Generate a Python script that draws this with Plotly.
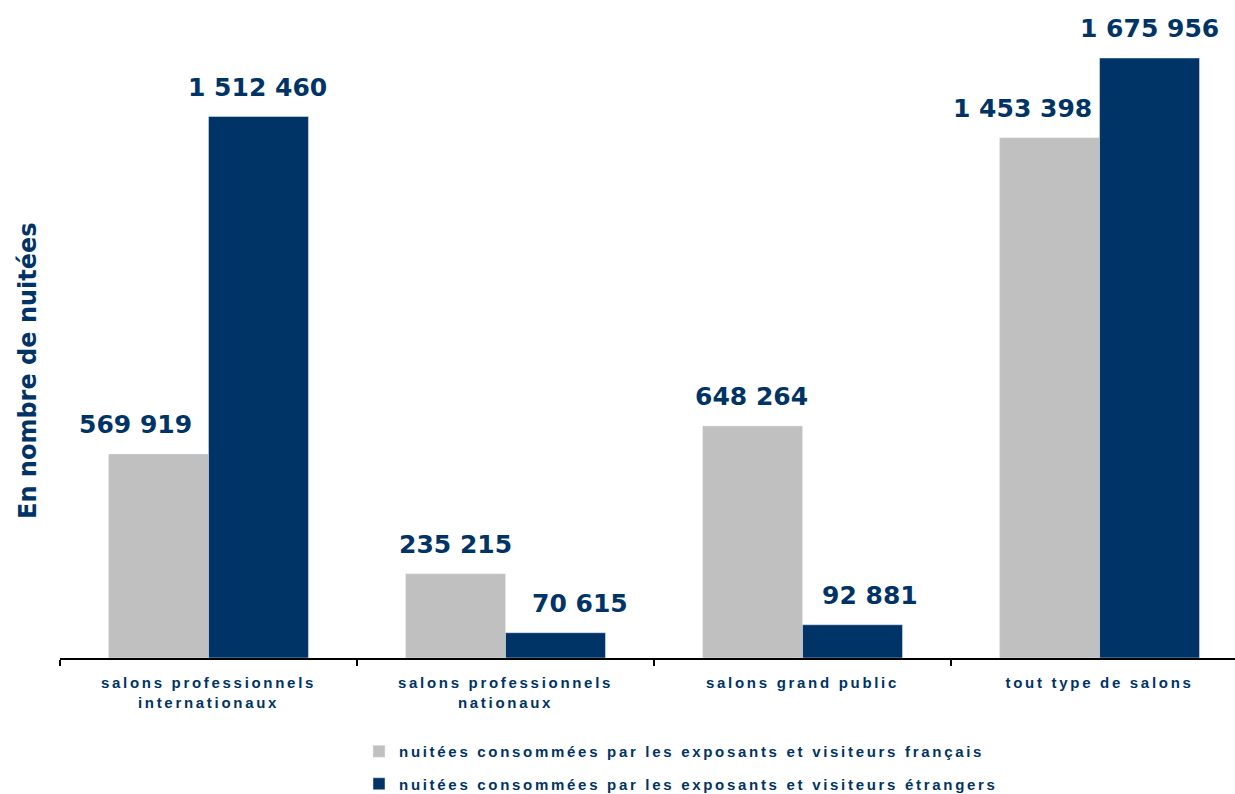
"""Nuitées consommées par type de salon — grouped bar chart."""

import plotly.graph_objects as go

# ---- data -------------------------------------------------------------
categories = [
    "salons professionnels<br>internationaux",
    "salons professionnels<br>nationaux",
    "salons grand public",
    "tout type de salons",
]
nuitees_francais = [569919, 235215, 648264, 1453398]
nuitees_etrangers = [1512460, 70615, 92881, 1675956]
series_names = [
    "nuitées consommées par les exposants et visiteurs français",
    "nuitées consommées par les exposants et visiteurs étrangers",
]
y_title = "En nombre de nuitées"

# ---- style ------------------------------------------------------------
GREY = "#c0c0c0"
NAVY = "#003366"
BAR_HALF_PX = 50                    # half bar width in px, for label placement
NUDGE_FR = [-23, 0, -1, -27]        # extra label shifts so labels don't collide
NUDGE_ET = [-1, 24, 17, 0]


def fmt(v):
    return f"{v:,}".replace(",", " ")


fig = go.Figure()
fig.add_trace(go.Bar(x=categories, y=nuitees_francais, name=series_names[0],
                     marker_color=GREY, legendgroup="fr"))
fig.add_trace(go.Bar(x=categories, y=nuitees_etrangers, name=series_names[1],
                     marker_color=NAVY, legendgroup="et"))

label_font = dict(family="DejaVu Sans", size=25, color=NAVY, weight="bold")
for i, cat in enumerate(categories):
    fig.add_annotation(x=cat, y=nuitees_francais[i], text=fmt(nuitees_francais[i]),
                       showarrow=False, yanchor="bottom", yshift=13,
                       xshift=-BAR_HALF_PX + NUDGE_FR[i], font=label_font)
    fig.add_annotation(x=cat, y=nuitees_etrangers[i], text=fmt(nuitees_etrangers[i]),
                       showarrow=False, yanchor="bottom", yshift=13,
                       xshift=BAR_HALF_PX + NUDGE_ET[i], font=label_font)

fig.add_annotation(text=y_title, textangle=-90, showarrow=False,
                   xref="paper", yref="paper", x=-0.0272, y=0.443,
                   xanchor="center", yanchor="middle",
                   font=dict(family="DejaVu Sans", size=24, color=NAVY, weight="bold"))

fig.update_layout(
    width=1235, height=794,
    margin=dict(l=60, r=0, t=10, b=136, autoexpand=False),
    barmode="group", bargap=0.327, bargroupgap=0,
    plot_bgcolor="white", paper_bgcolor="white",
    showlegend=True,
    legend=dict(xref="container", yref="container", x=0.2907, y=0.0743,
                xanchor="left", yanchor="top",
                traceorder="grouped", tracegroupgap=10,
                font=dict(family="Liberation Sans", size=15, color=NAVY, weight="bold")),
    xaxis=dict(range=[-0.5, 3.456], automargin=False,
               showline=True, linecolor="#000000", linewidth=2,
               ticks="outside", tickson="boundaries", ticklen=6, tickwidth=2,
               tickcolor="#000000", ticklabelstandoff=10,
               tickfont=dict(family="Liberation Sans", size=15, color=NAVY, weight="bold")),
    yaxis=dict(range=[0, 1810032], automargin=False, showgrid=False, zeroline=False,
               showticklabels=False, showline=False),
)

# the source chart uses tracked (letter-spaced) labels; plotly has no option for it
track_js = """
document.body.style.margin = '0';
var gd = document.getElementById('{plot_id}');
function track() {
  gd.querySelectorAll('.xtick text').forEach(function (t) { t.style.letterSpacing = '2.7px'; });
  gd.querySelectorAll('.legendtext').forEach(function (t) { t.style.letterSpacing = '2.7px'; });
  gd.querySelectorAll('.legend [clip-path]').forEach(function (e) { e.removeAttribute('clip-path'); });
}
track();
gd.on('plotly_afterplot', track);
"""

fig.write_html("out.html", post_script=track_js, config={"displayModeBar": False})
